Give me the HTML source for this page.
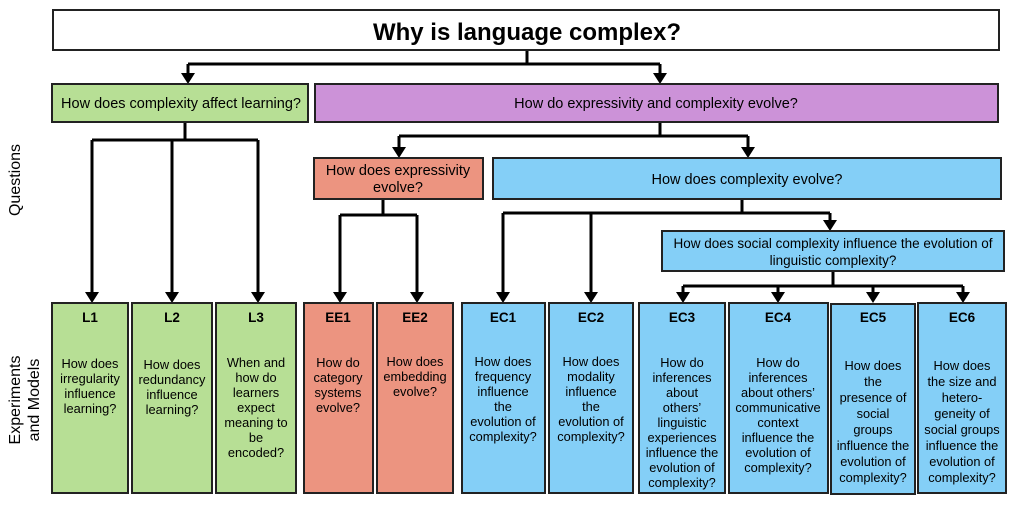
<!DOCTYPE html>
<html><head><meta charset="utf-8"><style>
body{margin:0;background:#fff}
svg{display:block}
text{font-family:"Liberation Sans",Arial,sans-serif;fill:#000}
</style></head><body>
<svg width="1012" height="505" viewBox="0 0 1012 505" xmlns="http://www.w3.org/2000/svg">
<g stroke="#000" stroke-width="3" fill="none">
<path d="M527 50 V64 M188 64 H660"/>
<path d="M188 64 V80 M660 64 V80"/>
<path d="M185 122 V140 M92 140 H258 M92 140 V298 M172 140 V298 M258 140 V298"/>
<path d="M660 122 V136 M399 136 H748 M399 136 V154 M748 136 V154"/>
<path d="M383 199 V215 M340 215 H417 M340 215 V298 M417 215 V298"/>
<path d="M742 199 V213 M503 213 H830 M503 213 V298 M591 213 V298 M830 213 V227"/>
<path d="M833 271 V286 M683 286 H963 M683 286 V298 M778 286 V298 M873 286 V298 M963 286 V298"/>
</g>
<g fill="#000">
<path d="M181 73 L195 73 L188 84 z"/><path d="M653 73 L667 73 L660 84 z"/>
<path d="M392 147 L406 147 L399 158 z"/><path d="M741 147 L755 147 L748 158 z"/>
<path d="M823 220 L837 220 L830 231 z"/>
<path d="M85 292 L99 292 L92 303 z"/><path d="M165 292 L179 292 L172 303 z"/><path d="M251 292 L265 292 L258 303 z"/>
<path d="M333 292 L347 292 L340 303 z"/><path d="M410 292 L424 292 L417 303 z"/>
<path d="M496 292 L510 292 L503 303 z"/><path d="M584 292 L598 292 L591 303 z"/>
<path d="M676 292 L690 292 L683 303 z"/><path d="M771 292 L785 292 L778 303 z"/><path d="M866 292 L880 292 L873 303 z"/><path d="M956 292 L970 292 L963 303 z"/>
</g>
<g stroke="#222" stroke-width="2">
<rect x="53" y="10" width="946" height="40" fill="#fff"/>
<rect x="52" y="84" width="256" height="38" fill="#b7df95"/>
<rect x="315" y="84" width="683" height="38" fill="#cc92d8"/>
<rect x="314" y="158" width="169" height="41" fill="#ec9480"/>
<rect x="493" y="158" width="508" height="41" fill="#84cff7"/>
<rect x="662" y="231" width="342" height="40" fill="#84cff7"/>
<rect x="52" y="303" width="76" height="190" fill="#b7df95"/>
<rect x="132" y="303" width="80" height="190" fill="#b7df95"/>
<rect x="216" y="303" width="80" height="190" fill="#b7df95"/>
<rect x="304" y="303" width="69" height="190" fill="#ec9480"/>
<rect x="377" y="303" width="76" height="190" fill="#ec9480"/>
<rect x="462" y="303" width="83" height="190" fill="#84cff7"/>
<rect x="549" y="303" width="84" height="190" fill="#84cff7"/>
<rect x="639" y="303" width="86" height="190" fill="#84cff7"/>
<rect x="729" y="303" width="99" height="190" fill="#84cff7"/>
<rect x="831" y="304" width="84" height="190" fill="#84cff7"/>
<rect x="918" y="303" width="88" height="190" fill="#84cff7"/>
</g>
<text x="527" y="40" font-size="24" font-weight="bold" text-anchor="middle">Why is language complex?</text>
<g font-size="14.5" text-anchor="middle">
<text x="181" y="108">How does complexity affect learning?</text>
<text x="656" y="108">How do expressivity and complexity evolve?</text>
<text x="398" y="175">How does expressivity</text><text x="398" y="192">evolve?</text>
<text x="747" y="184">How does complexity evolve?</text>
</g>
<g font-size="13.5" text-anchor="middle">
<text x="833" y="248">How does social complexity influence the evolution of</text><text x="833" y="265">linguistic complexity?</text>
</g>
<g font-size="12.8" text-anchor="middle">
<g font-weight="bold" font-size="13.5">
<text x="90" y="322">L1</text><text x="172" y="322">L2</text><text x="256" y="322">L3</text>
<text x="338" y="322">EE1</text><text x="415" y="322">EE2</text><text x="503" y="322">EC1</text>
<text x="591" y="322">EC2</text><text x="682" y="322">EC3</text><text x="778" y="322">EC4</text>
<text x="873" y="322">EC5</text><text x="962" y="322">EC6</text></g>
<text x="90" y="368">How does</text><text x="90" y="383">irregularity</text><text x="90" y="398">influence</text><text x="90" y="413">learning?</text>
<text x="172" y="369">How does</text><text x="172" y="384">redundancy</text><text x="172" y="399">influence</text><text x="172" y="414">learning?</text>
<text x="256" y="367">When and</text><text x="256" y="382">how do</text><text x="256" y="397">learners</text><text x="256" y="412">expect</text><text x="256" y="427">meaning to</text><text x="256" y="442">be</text><text x="256" y="457">encoded?</text>
<text x="338" y="367">How do</text><text x="338" y="382">category</text><text x="338" y="397">systems</text><text x="338" y="412">evolve?</text>
<text x="415" y="366">How does</text><text x="415" y="381">embedding</text><text x="415" y="396">evolve?</text>
<text x="503" y="366">How does</text><text x="503" y="381">frequency</text><text x="503" y="396">influence</text><text x="503" y="411">the</text><text x="503" y="426">evolution of</text><text x="503" y="441">complexity?</text>
<text x="591" y="366">How does</text><text x="591" y="381">modality</text><text x="591" y="396">influence</text><text x="591" y="411">the</text><text x="591" y="426">evolution of</text><text x="591" y="441">complexity?</text>
<text x="682" y="367">How do</text><text x="682" y="382">inferences</text><text x="682" y="397">about</text><text x="682" y="412">others’</text><text x="682" y="427">linguistic</text><text x="682" y="442">experiences</text><text x="682" y="457">influence the</text><text x="682" y="472">evolution of</text><text x="682" y="487">complexity?</text>
<text x="778" y="367">How do</text><text x="778" y="382">inferences</text><text x="778" y="397">about others’</text><text x="778" y="412">communicative</text><text x="778" y="427">context</text><text x="778" y="442">influence the</text><text x="778" y="457">evolution of</text><text x="778" y="472">complexity?</text>
<text x="873" y="370">How does</text><text x="873" y="386">the</text><text x="873" y="402">presence of</text><text x="873" y="418">social</text><text x="873" y="434">groups</text><text x="873" y="450">influence the</text><text x="873" y="466">evolution of</text><text x="873" y="482">complexity?</text>
<text x="962" y="370">How does</text><text x="962" y="386">the size and</text><text x="962" y="402">hetero-</text><text x="962" y="418">geneity of</text><text x="962" y="434">social groups</text><text x="962" y="450">influence the</text><text x="962" y="466">evolution of</text><text x="962" y="482">complexity?</text>
</g>
<g font-size="16" text-anchor="middle">
<text transform="translate(20,180) rotate(-90)">Questions</text>
<text transform="translate(20,400) rotate(-90)">Experiments</text>
<text transform="translate(39,400) rotate(-90)">and Models</text>
</g>
</svg>
</body></html>
